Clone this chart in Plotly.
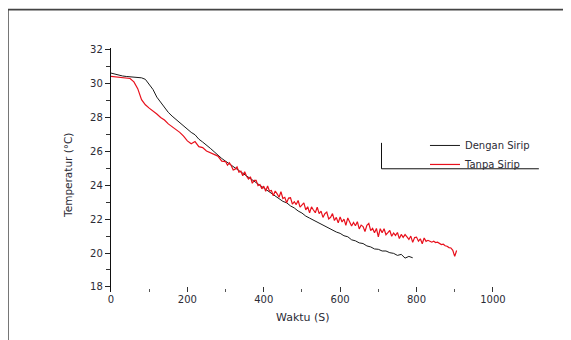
import plotly.graph_objects as go

# ---- data ----
time_dengan = list(range(0, 800, 10))
temp_dengan = [
    30.62, 30.55, 30.50, 30.45, 30.42, 30.40, 30.38, 30.36, 30.34, 30.25,
    29.95, 29.65, 29.20, 28.90, 28.60, 28.30, 28.08, 27.88, 27.68, 27.48,
    27.30, 27.12, 26.98, 26.72, 26.55, 26.38, 26.18, 25.98, 25.76, 25.58,
    25.42, 25.26, 25.12, 24.96, 24.82, 24.66, 24.48, 24.32, 24.14, 23.98,
    23.82, 23.66, 23.52, 23.34, 23.22, 23.05, 22.96, 22.78, 22.66, 22.48,
    22.36, 22.18, 22.06, 21.94, 21.86, 21.70, 21.62, 21.48, 21.38, 21.24,
    21.16, 21.02, 20.96, 20.78, 20.72, 20.60, 20.56, 20.42, 20.36, 20.24,
    20.22, 20.12, 20.12, 20.02, 19.98, 19.86, 19.92, 19.70, 19.80, 19.72,
]
time_tanpa = list(range(0, 300, 10)) + list(range(300, 910, 5))
temp_tanpa = [
    # 0 - 290 s
    30.42, 30.40, 30.36, 30.33, 30.32, 30.30, 30.10, 29.70, 29.05, 28.75,
    28.55, 28.40, 28.20, 28.00, 27.85, 27.62, 27.45, 27.30, 27.12, 26.90,
    26.62, 26.45, 26.58, 26.28, 26.22, 26.02, 25.92, 25.78, 25.72, 25.42,
    # 300 - 395 s
    25.40, 25.18, 25.32, 25.15, 24.90, 24.95, 25.08, 24.77, 24.83, 24.56,
    24.80, 24.53, 24.37, 24.50, 24.12, 24.29, 24.29, 23.98, 24.04, 23.79,
    # 400 - 495 s
    23.95, 23.64, 23.96, 23.65, 23.69, 23.38, 23.66, 23.49, 23.29, 23.62,
    23.22, 23.29, 22.97, 23.24, 23.26, 22.89, 23.03, 22.86, 23.10, 22.71,
    # 500 - 595 s
    22.82, 22.96, 22.55, 22.73, 22.37, 22.72, 22.54, 22.38, 22.71, 22.33,
    22.47, 22.10, 22.32, 22.42, 22.01, 22.11, 22.33, 21.92, 22.10, 21.78,
    # 600 - 695 s
    22.13, 21.83, 22.00, 21.64, 22.07, 21.81, 21.60, 21.80, 21.61, 21.85,
    21.42, 21.65, 21.56, 21.27, 21.64, 21.75, 21.32, 21.45, 21.20, 21.45,
    # 700 - 795 s
    20.96, 21.44, 21.19, 21.43, 21.08, 21.20, 21.33, 20.99, 21.18, 21.04,
    21.21, 20.85, 21.10, 20.92, 21.09, 20.95, 20.80, 21.00, 20.63, 20.91,
    # 800 - 905 s
    20.94, 20.70, 20.84, 20.55, 20.89, 20.69, 20.75, 20.70, 20.64, 20.70,
    20.62, 20.64, 20.58, 20.50, 20.52, 20.43, 20.40, 20.32, 20.30, 20.16,
    19.80, 20.15,
]
series_names = ["Dengan Sirip", "Tanpa Sirip"]
x_ticks = [0, 200, 400, 600, 800, 1000]
y_ticks = [18, 20, 22, 24, 26, 28, 30, 32]

FONT = "DejaVu Sans"
TXT = "#2b2b35"

fig = go.Figure()
fig.add_trace(go.Scatter(x=time_dengan, y=temp_dengan, mode="lines",
                         name=series_names[0],
                         line=dict(color="#1a1a1a", width=1)))
fig.add_trace(go.Scatter(x=time_tanpa, y=temp_tanpa, mode="lines",
                         name=series_names[1],
                         line=dict(color="#e8101c", width=1.2)))

# page body has an 8px margin, so the figure is 8px smaller and offset
fig.update_layout(
    width=563, height=332,
    margin=dict(l=103, r=59, t=40, b=48),
    paper_bgcolor="white", plot_bgcolor="white",
    font=dict(family=FONT, size=10, color=TXT),
    showlegend=True,
    legend=dict(x=0.783, y=0.66, xanchor="left", yanchor="top",
                bgcolor="rgba(0,0,0,0)", borderwidth=0,
                font=dict(family=FONT, size=10, color=TXT)),
    xaxis=dict(range=[0, 1050], tickvals=x_ticks,
               ticktext=[str(v) for v in x_ticks],
               showgrid=False, zeroline=False, showline=False,
               ticks="inside", ticklen=5, tickwidth=1, tickcolor="#333",
               minor=dict(dtick=100, tick0=0, ticks="inside", ticklen=3,
                          tickcolor="#555"),
               tickfont=dict(size=10, color=TXT)),
    yaxis=dict(range=[17.7, 32.1], tickvals=y_ticks,
               showgrid=False, zeroline=False, showline=True,
               linecolor="#111", linewidth=1.3,
               ticks="outside", ticklen=5, tickwidth=1, tickcolor="#222",
               minor=dict(dtick=1, tick0=18, ticks="outside", ticklen=4,
                          tickcolor="#333"),
               tickfont=dict(size=10, color=TXT)),
)

# axis titles
fig.add_annotation(text="Temperatur (°C)", xref="paper", yref="paper",
                   x=-0.127, y=0.476, textangle=-90, showarrow=False,
                   font=dict(family=FONT, size=10.5, color=TXT))
fig.add_annotation(text="Waktu (S)", xref="paper", yref="paper",
                   x=0.479, y=-0.106, showarrow=False, yanchor="middle",
                   font=dict(family=FONT, size=11, color=TXT))

# legend frame (left and bottom edges)
fig.add_shape(type="line", xref="paper", yref="paper",
              x0=0.6746, x1=0.6746, y0=0.505, y1=0.6112,
              line=dict(color="#111", width=1))
fig.add_shape(type="line", xref="paper", yref="paper",
              x0=0.6746, x1=1.067, y0=0.505, y1=0.505,
              line=dict(color="#111", width=1))

# outer border of the figure
fig.add_shape(type="line", xref="paper", yref="paper",
              x0=-0.2569, x1=1.2, y0=1.157, y1=1.157,
              line=dict(color="#444", width=1.8))
fig.add_shape(type="line", xref="paper", yref="paper",
              x0=-0.2569, x1=-0.2569, y0=1.157, y1=-0.3,
              line=dict(color="#444", width=1.5))
fig.add_shape(type="line", xref="paper", yref="paper",
              x0=1.1446, x1=1.1446, y0=1.157, y1=-0.3,
              line=dict(color="#ccc", width=1))

fig.write_html("out.html")
